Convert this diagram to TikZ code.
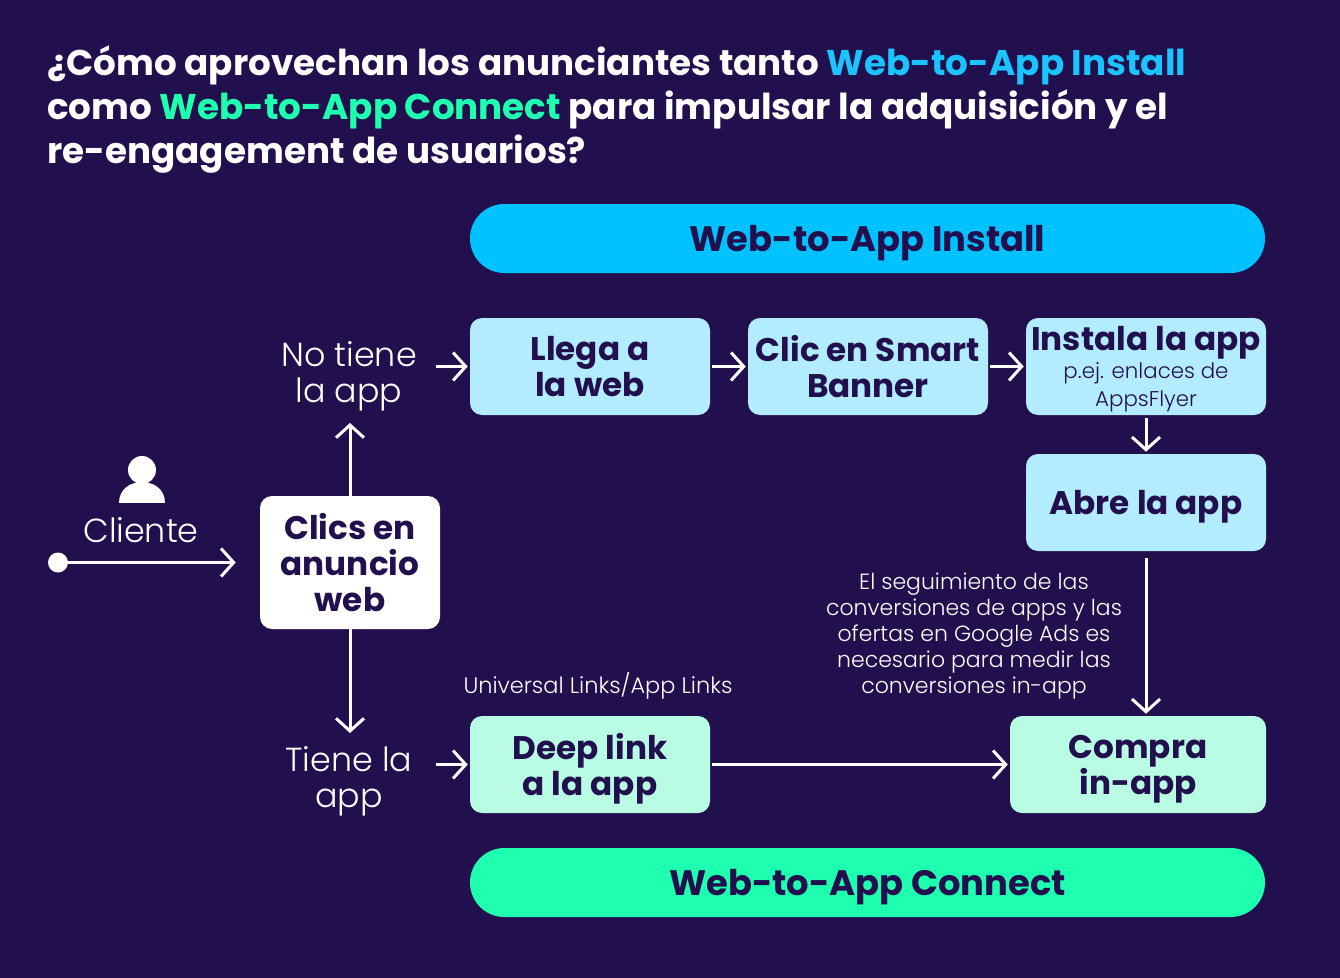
\documentclass[tikz,border=0pt]{standalone}
\usepackage{fontspec}
\setmainfont{Poppins}
\newfontfamily\lightfont{Poppins Light}
\usetikzlibrary{arrows.meta}
\definecolor{bg}{HTML}{220F4D}
\definecolor{tblue}{HTML}{1BC4FF}
\definecolor{tgreen}{HTML}{1EFFAF}
\definecolor{pblue}{HTML}{00C2FF}
\definecolor{pgreen}{HTML}{1EFFAF}
\definecolor{lblue}{HTML}{B3ECFF}
\definecolor{lgreen}{HTML}{B8FDE3}
\begin{document}
\begin{tikzpicture}[x=0.75pt,y=-0.75pt,
  box/.style={rounded corners=9pt, minimum width=180pt, minimum height=72.75pt, align=center, text=bg, font=\bfseries\fontsize{24.5}{27}\selectfont, inner sep=0pt, text depth=0pt},
  pill/.style={rounded corners=25.8pt, minimum width=596.25pt, minimum height=51.75pt, text=bg, font=\bfseries\fontsize{26.5}{30}\selectfont, inner sep=0pt, text depth=0pt},
  lbl/.style={text=white, align=center, font=\lightfont\fontsize{25}{27}\selectfont, inner sep=0pt},
  note/.style={text=white, align=center, font=\lightfont\fontsize{16.5}{19.5}\selectfont, inner sep=0pt},
  ttl/.style={text=white, anchor=base west, font=\bfseries\fontsize{26.8}{33}\selectfont, inner sep=0pt},
  arr/.style={draw=white, line width=2.25pt, -{Straight Barb[length=9.5pt,width=21pt]}},
  small/.style={}]
\fill[bg] (0,0) rectangle (1340,978);
\useasboundingbox (0,0) rectangle (1340,978);
% title
\node[ttl] (t1) at (47,75) {¿Cómo aprovechan los anunciantes tanto \textcolor{tblue}{Web-to-App Install}};
\node[ttl] (t2) at (47,119) {como \textcolor{tgreen}{Web-to-App Connect} para impulsar la adquisición y el};
\node[ttl] (t3) at (47,163) {re-engagement de usuarios?};
% pills
\node[pill, fill=pblue] (install) at (867.5,238.5) {Web-to-App Install};
\node[pill, fill=pgreen] (connect) at (867.5,882.5) {Web-to-App Connect};
% boxes
\node[box, fill=lblue] (llega) at (590,366.5) {Llega a\\la web};
\node[box, fill=lblue] (smart) at (868,366.5) {Clic en Smart\\Banner};
\node[box, fill=lblue] (instala) at (1146,366.5) {Instala la app\\[-6pt]{\lightfont\mdseries\fontsize{16}{18.5}\selectfont p.ej. enlaces de}\\[-6pt]{\lightfont\mdseries\fontsize{16}{18.5}\selectfont AppsFlyer}};
\node[box, fill=lblue] (abre) at (1146,502.5) {Abre la app};
\node[box, fill=white, minimum width=135pt, minimum height=99.75pt] (clics) at (350,562.5) {Clics en\\anuncio\\web};
\node[box, fill=lgreen] (deep) at (590,764.5) {Deep link\\a la app};
\node[box, fill=lgreen, minimum width=192pt] (compra) at (1138,764.5) {Compra\\in-app};
% labels
\node[lbl] (notiene) at (349,376) {No tiene\\la app};
\node[lbl] (tiene) at (349,781.5) {Tiene la\\app};
\node[lbl] (cliente) at (141,530) {Cliente};
\node[note, font=\lightfont\fontsize{16.8}{19.5}\selectfont] (univ) at (598,686) {Universal Links/App Links};
\node[note] (seg) at (974,636) {El seguimiento de las\\conversiones de apps y las\\ofertas en Google Ads es\\necesario para medir las\\conversiones in-app};
% person icon
\fill[white] (142,470) circle (10.5pt);
\fill[white] (119,503) .. controls (119,475) and (165,475) .. (165,503) -- cycle;
% dot
\node[circle, fill=white, minimum size=15pt, inner sep=0pt] (dot) at (58,562.5) {};
\coordinate (upTip) at (350,423);
\coordinate (downTip) at (350,733);
% connectors
\draw[arr, shorten >=18pt] (dot.center) -- (clics.west);
\draw[arr] (clics.north) -- (upTip);
\draw[arr] (clics.south) -- (downTip);
\draw[arr] ([xshift=-25.5pt]llega.west) -- ([xshift=-1.5pt]llega.west);
\draw[arr] ([xshift=-25.5pt]deep.west) -- ([xshift=-1.5pt]deep.west);
\draw[arr, shorten <=1.5pt, shorten >=1.5pt] (llega.east) -- (smart.west);
\draw[arr, shorten <=1.5pt, shorten >=1.5pt] (smart.east) -- (instala.west);
\draw[arr, shorten <=2pt, shorten >=1.5pt] (instala.south) -- (abre.north);
\draw[arr, shorten <=5pt, shorten >=1.5pt] (abre.south) -- (abre.south |- compra.north);
\draw[arr, shorten <=1.5pt, shorten >=1.5pt] (deep.east) -- (compra.west);
\end{tikzpicture}
\end{document}
